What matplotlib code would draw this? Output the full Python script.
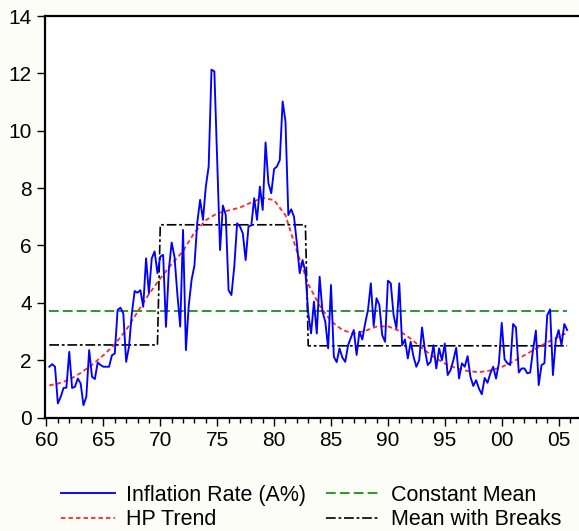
import matplotlib
matplotlib.use("Agg")
import matplotlib.pyplot as plt
import numpy as np
import pandas as pd

plt.rcParams['font.family'] = ['Liberation Sans', 'DejaVu Sans']
plt.rcParams['lines.scale_dashes'] = False

# ---------------- data ----------------
start_quarter = '1960Q2'
end_quarter = '2005Q4'

inflation = [
    # 1960Q2 - 1970Q2
    1.77, 1.86, 1.77, 0.49, 0.72, 1.03, 1.04, 2.29, 1.03, 1.07, 1.36, 1.19,
    0.43, 0.72, 2.35, 1.42, 1.34, 1.92, 1.83, 1.77, 1.77, 1.77, 2.17, 2.23,
    3.75, 3.83, 3.63, 1.94, 2.47, 3.63, 4.41, 4.35, 4.44, 3.86, 5.55, 4.33,
    5.55, 5.79, 5.03, 5.61, 5.67,
    # 1970Q3 - 1981Q1
    3.16, 5.15, 6.10, 5.60, 4.30, 3.17, 6.54, 2.35, 3.90, 4.80, 5.30, 6.80,
    7.59, 6.89, 8.05, 8.75, 12.13, 12.07, 9.00, 5.84, 7.39, 7.07, 4.44, 4.27,
    5.26, 6.77, 6.66, 6.42, 5.49, 6.66, 6.70, 7.65, 6.89, 8.05, 7.24, 9.59,
    8.17, 7.82, 8.67, 8.75, 8.98, 11.02, 10.32,
    # 1981Q2 - 1984Q4
    7.06, 7.26, 7.00, 6.07, 5.03, 5.49, 5.08, 3.63, 2.93, 4.04, 2.93, 4.91,
    3.69, 3.34, 2.41,
    # 1985Q1 - 2005Q4
    4.62, 2.12, 1.93, 2.41, 2.09, 1.94, 2.52, 2.79, 3.05, 2.18, 2.99, 2.72,
    3.28, 3.75, 4.68, 3.19, 4.16, 3.92, 2.87, 2.64, 4.77, 4.68, 3.57, 3.11,
    4.68, 2.52, 2.72, 2.06, 2.64, 2.12, 1.77, 2.00, 3.14, 2.35, 1.83, 1.94,
    2.52, 1.71, 2.41, 2.00, 2.58, 1.48, 1.65, 2.00, 2.43, 1.36, 1.89, 1.77,
    2.14, 1.42, 1.10, 1.30, 1.01, 0.81, 1.38, 1.21, 1.54, 1.77, 1.36, 1.89,
    3.30, 2.03, 1.89, 1.83, 3.26, 3.14, 1.57, 1.71, 1.71, 1.54, 1.57, 2.35,
    3.03, 1.13, 1.83, 1.89, 3.57, 3.77, 1.48, 2.70, 3.05, 2.52, 3.26, 3.05,
]

hp_dates = [1960.25] + list(range(1961, 2006)) + [2005.75]
hp_trend = [
    1.12, 1.18, 1.32, 1.55, 1.84, 2.17, 2.55, 3.05, 3.68, 4.30,
    4.85, 5.35, 5.80, 6.45, 6.88, 7.12, 7.22, 7.32, 7.50, 7.66,
    7.58, 7.05, 5.80, 4.65, 3.90, 3.36, 3.05, 2.93, 3.02, 3.17,
    3.18, 3.02, 2.75, 2.42, 2.12, 1.88, 1.72, 1.62, 1.58, 1.64,
    1.76, 1.95, 2.17, 2.40, 2.62, 2.82, 2.95,
]

constant_mean = 3.70
break_quarters = ['1970Q1', '1983Q1']
regime_means = [2.53, 6.72, 2.50]

xtick_years = list(range(1960, 2006, 5))
xtick_labels = ['60', '65', '70', '75', '80', '85', '90', '95', '00', '05']
ytick_values = list(range(0, 15, 2))

labels = ['Inflation Rate (A%)', 'HP Trend', 'Constant Mean', 'Mean with Breaks']

# ---------------- derived ----------------
periods = pd.period_range(start_quarter, end_quarter, freq='Q')
t = periods.year + (periods.quarter - 1) / 4.0
breaks = [pd.Period(b, freq='Q') for b in break_quarters]
regime = np.searchsorted(np.array([b.ordinal for b in breaks]),
                         np.array([p.ordinal for p in periods]), side='right')
mean_breaks = np.array(regime_means)[regime]

# ---------------- figure ----------------
W, H = 579, 531
fig = plt.figure(figsize=(W / 100, H / 100), dpi=100, facecolor='#fdfdf8')
ax = fig.add_axes([45 / W, 1 - 417.5 / H, 1 - 45 / W, (417.5 - 16) / H])
ax.set_facecolor('white')

l1, = ax.plot(t, inflation, color='#0000ff', lw=1.35, zorder=5)
l2, = ax.plot(hp_dates, hp_trend, color='#ff2828', lw=1.3,
              linestyle=(0, (3.2, 2.2)), zorder=4)
l3, = ax.plot([t[0], t[-1]], [constant_mean, constant_mean], color='#1e8f1e',
              lw=1.3, linestyle=(0, (7, 3)), zorder=3)
l4, = ax.plot(t, mean_breaks, color='black', lw=1.2,
              linestyle=(0, (7, 2, 2, 2)), zorder=3)

ax.set_xlim(1959.87, 2006.79)
ax.set_ylim(0, 14)
ax.set_xticks(xtick_years)
ax.set_xticklabels(xtick_labels)
ax.set_xticks(np.arange(1960, 2007, 1), minor=True)
ax.set_yticks(ytick_values)
ax.set_yticklabels([str(v) for v in ytick_values])

ax.tick_params(axis='both', which='major', direction='out', length=6,
               width=1.0, labelsize=15, colors='black')
ax.tick_params(axis='x', which='major', pad=4)
ax.tick_params(axis='y', which='major', pad=3.5)
ax.tick_params(axis='x', which='minor', direction='out', length=3.5, width=1.0)
ax.tick_params(axis='y', which='minor', length=0)

for side in ['left', 'top', 'bottom']:
    ax.spines[side].set_linewidth(1.6)
    ax.spines[side].set_color('black')
ax.spines['right'].set_visible(False)

fig.legend([l1, l2, l3, l4], labels, loc='upper left',
           bbox_to_anchor=(61 / W, 1 - 485 / H), ncol=2, frameon=False,
           fontsize=15.5, handlelength=2.5, handletextpad=0.5,
           columnspacing=0.95, labelspacing=0.16, borderaxespad=0,
           borderpad=0)

fig.savefig('out.png', dpi=100, facecolor=fig.get_facecolor())
